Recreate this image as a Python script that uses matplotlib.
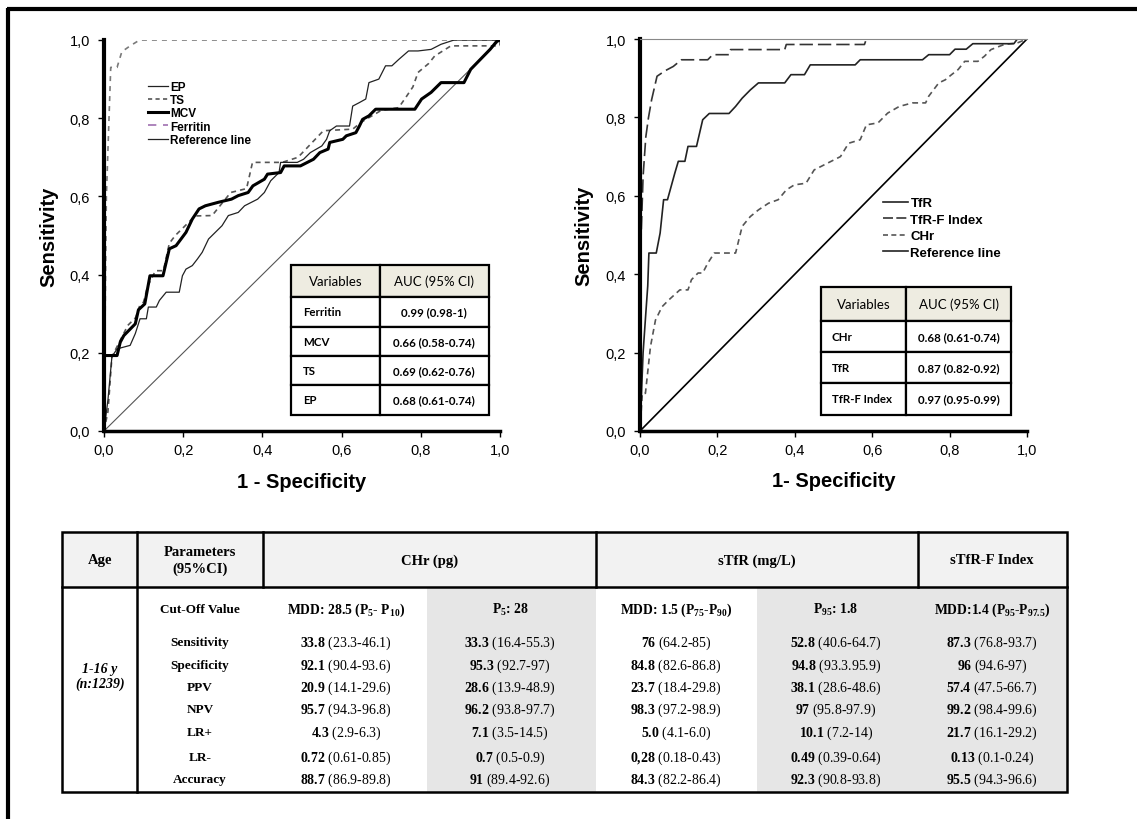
import numpy as np
import matplotlib.pyplot as plt
from matplotlib.lines import Line2D
from matplotlib.patches import Rectangle
from matplotlib.ticker import FuncFormatter

plt.rcParams['font.family'] = ['Liberation Sans', 'DejaVu Sans']
plt.rcParams['mathtext.fontset'] = 'custom'
plt.rcParams['mathtext.rm'] = 'Liberation Serif'
plt.rcParams['mathtext.bf'] = 'Liberation Serif:bold'

# ROC curves: (1 - specificity, sensitivity)
ferritin_pts = [(0, 0), (0.003, 0.3), (0.006, 0.6), (0.017, 0.93), (0.033, 0.93),
                (0.045, 0.97), (0.066, 0.985), (0.09, 1.0), (1.0, 1.0)]
mcv_pts = [(0, 0), (0, 0.193), (0.033, 0.193), (0.041, 0.227), (0.05, 0.244), (0.079, 0.274),
           (0.087, 0.31), (0.103, 0.325), (0.116, 0.397), (0.149, 0.397), (0.165, 0.466),
           (0.182, 0.474), (0.207, 0.508), (0.223, 0.542), (0.24, 0.568), (0.256, 0.576),
           (0.289, 0.585), (0.322, 0.593), (0.339, 0.602), (0.364, 0.61), (0.376, 0.627),
           (0.405, 0.644), (0.413, 0.657), (0.446, 0.661), (0.455, 0.678), (0.496, 0.678),
           (0.529, 0.695), (0.545, 0.712), (0.566, 0.721), (0.57, 0.738), (0.603, 0.746),
           (0.612, 0.755), (0.636, 0.763), (0.645, 0.78), (0.653, 0.797), (0.669, 0.806),
           (0.686, 0.823), (0.785, 0.823), (0.802, 0.849), (0.826, 0.866), (0.851, 0.891),
           (0.909, 0.891), (0.926, 0.925), (0.95, 0.95), (0.975, 0.976), (0.992, 0.997), (1.0, 1.0)]
ep_pts = [(0, 0), (0.01, 0.08), (0.02, 0.19), (0.033, 0.21), (0.066, 0.219), (0.079, 0.249),
          (0.091, 0.287), (0.107, 0.287), (0.112, 0.317), (0.132, 0.317), (0.14, 0.334),
          (0.157, 0.355), (0.19, 0.355), (0.198, 0.397), (0.207, 0.414), (0.223, 0.423),
          (0.236, 0.44), (0.248, 0.457), (0.256, 0.474), (0.264, 0.491), (0.281, 0.508),
          (0.298, 0.525), (0.314, 0.551), (0.339, 0.559), (0.355, 0.576), (0.388, 0.593),
          (0.405, 0.61), (0.421, 0.64), (0.442, 0.661), (0.446, 0.687), (0.488, 0.687),
          (0.504, 0.695), (0.521, 0.712), (0.55, 0.729), (0.562, 0.746), (0.57, 0.768),
          (0.587, 0.78), (0.62, 0.78), (0.628, 0.831), (0.645, 0.84), (0.661, 0.849),
          (0.669, 0.891), (0.694, 0.9), (0.711, 0.934), (0.727, 0.934), (0.744, 0.95),
          (0.769, 0.972), (0.793, 0.972), (0.826, 0.976), (0.851, 0.989), (0.884, 1.0), (1.0, 1.0)]
ts_pts = [(0, 0), (0.01, 0.05), (0.02, 0.19), (0.04, 0.23), (0.06, 0.27), (0.08, 0.29),
          (0.09, 0.32), (0.1, 0.33), (0.11, 0.37), (0.13, 0.41), (0.15, 0.41), (0.165, 0.48),
          (0.18, 0.5), (0.21, 0.53), (0.23, 0.55), (0.273, 0.551), (0.32, 0.61), (0.36, 0.62),
          (0.375, 0.687), (0.45, 0.687), (0.49, 0.70), (0.554, 0.768), (0.628, 0.772),
          (0.65, 0.79), (0.7, 0.82), (0.744, 0.827), (0.76, 0.85), (0.78, 0.88), (0.793, 0.917),
          (0.82, 0.94), (0.835, 0.959), (0.876, 0.985), (1.0, 0.985), (1.0, 1.0)]

tfrf_pts = [(0, 0), (0.003, 0.5), (0.008, 0.65), (0.015, 0.75), (0.022, 0.8), (0.03, 0.845),
            (0.044, 0.905), (0.065, 0.919), (0.086, 0.93), (0.107, 0.947), (0.175, 0.947),
            (0.188, 0.96), (0.23, 0.96), (0.234, 0.973), (0.374, 0.973), (0.378, 0.986),
            (0.58, 0.986), (0.585, 1.0), (1.0, 1.0)]
tfr_pts = [(0, 0), (0.008, 0.2), (0.015, 0.3), (0.02, 0.37), (0.023, 0.454), (0.042, 0.454),
           (0.052, 0.505), (0.061, 0.59), (0.071, 0.59), (0.078, 0.615), (0.09, 0.658),
           (0.099, 0.688), (0.116, 0.688), (0.124, 0.726), (0.146, 0.726), (0.154, 0.76),
           (0.162, 0.794), (0.179, 0.81), (0.23, 0.81), (0.247, 0.828), (0.264, 0.849),
           (0.285, 0.87), (0.306, 0.888), (0.374, 0.888), (0.39, 0.909), (0.425, 0.909),
           (0.44, 0.934), (0.556, 0.934), (0.569, 0.947), (0.73, 0.947), (0.746, 0.96),
           (0.8, 0.96), (0.814, 0.974), (0.843, 0.974), (0.86, 0.988), (0.966, 0.988),
           (0.975, 1.0), (1.0, 1.0)]
chr_pts = [(0, 0), (0.006, 0.096), (0.014, 0.096), (0.027, 0.215), (0.04, 0.283), (0.057, 0.317),
           (0.074, 0.334), (0.103, 0.36), (0.124, 0.36), (0.133, 0.386), (0.15, 0.403),
           (0.162, 0.403), (0.175, 0.428), (0.192, 0.454), (0.247, 0.454), (0.264, 0.522),
           (0.285, 0.547), (0.306, 0.564), (0.332, 0.581), (0.357, 0.59), (0.378, 0.615),
           (0.399, 0.628), (0.429, 0.632), (0.45, 0.666), (0.484, 0.683), (0.518, 0.7),
           (0.539, 0.734), (0.569, 0.743), (0.585, 0.781), (0.615, 0.786), (0.64, 0.811),
           (0.67, 0.828), (0.704, 0.837), (0.738, 0.837), (0.746, 0.854), (0.772, 0.888),
           (0.789, 0.896), (0.805, 0.909), (0.822, 0.922), (0.839, 0.943), (0.873, 0.943),
           (0.89, 0.956), (0.907, 0.973), (0.941, 0.986), (0.975, 0.99), (1.0, 1.0)]

# AUC inset tables
left_vars = ['Ferritin', 'MCV', 'TS', 'EP']
left_auc = ['0.99 (0.98-1)', '0.66 (0.58-0.74)', '0.69 (0.62-0.76)', '0.68 (0.61-0.74)']
right_vars = ['CHr', 'TfR', 'TfR-F Index']
right_auc = ['0.68 (0.61-0.74)', '0.87 (0.82-0.92)', '0.97 (0.95-0.99)']

# bottom table
params = ['Sensitivity', 'Specificity', 'PPV', 'NPV', 'LR+', 'LR-', 'Accuracy']
cutoffs = [r'MDD: 28.5 (P$_\mathbf{5}$- P$_\mathbf{10}$)', r'P$_\mathbf{5}$: 28',
           r'MDD: 1.5 (P$_\mathbf{75}$-P$_\mathbf{90}$)', r'P$_\mathbf{95}$: 1.8',
           r'MDD:1.4 (P$_\mathbf{95}$-P$_\mathbf{97.5}$)']
chr_mdd_val = ['33.8', '92.1', '20.9', '95.7', '4.3', '0.72', '88.7']
chr_mdd_ci = ['23.3-46.1', '90.4-93.6', '14.1-29.6', '94.3-96.8', '2.9-6.3', '0.61-0.85', '86.9-89.8']
chr_p5_val = ['33.3', '95.3', '28.6', '96.2', '7.1', '0.7', '91']
chr_p5_ci = ['16.4-55.3', '92.7-97', '13.9-48.9', '93.8-97.7', '3.5-14.5', '0.5-0.9', '89.4-92.6']
tfr_mdd_val = ['76', '84.8', '23.7', '98.3', '5.0', '0,28', '84.3']
tfr_mdd_ci = ['64.2-85', '82.6-86.8', '18.4-29.8', '97.2-98.9', '4.1-6.0', '0.18-0.43', '82.2-86.4']
tfr_p95_val = ['52.8', '94.8', '38.1', '97', '10.1', '0.49', '92.3']
tfr_p95_ci = ['40.6-64.7', '93.3.95.9', '28.6-48.6', '95.8-97.9', '7.2-14', '0.39-0.64', '90.8-93.8']
idx_val = ['87.3', '96', '57.4', '99.2', '21.7', '0.13', '95.5']
idx_ci = ['76.8-93.7', '94.6-97', '47.5-66.7', '98.4-99.6', '16.1-29.2', '0.1-0.24', '94.3-96.6']

W, H = 1137, 820
fig = plt.figure(figsize=(W / 100, H / 100), dpi=100)
fig.patch.set_facecolor('white')

def style_roc(ax, top_spine):
    ax.set_xlim(0, 1)
    ax.set_ylim(0, 1)
    ticks = np.arange(0, 1.01, 0.2)
    ax.set_xticks(ticks)
    ax.set_yticks(ticks)
    fmt = FuncFormatter(lambda v, p: f'{v:.1f}'.replace('.', ','))
    ax.xaxis.set_major_formatter(fmt)
    ax.yaxis.set_major_formatter(fmt)
    ax.tick_params(direction='out', length=4, width=1, labelsize=10.5)
    ax.tick_params(axis='x', pad=5)
    ax.tick_params(axis='y', pad=6)
    ax.spines['left'].set_linewidth(3)
    ax.spines['bottom'].set_linewidth(2.5)
    ax.spines['right'].set_visible(False)
    if top_spine:
        ax.spines['top'].set_linewidth(0.8)
        ax.spines['top'].set_color('#888888')
    else:
        ax.spines['top'].set_visible(False)

def inset_table(ax, names, aucs, bbox, col_frac, head_frac):
    rows = [['Variables', 'AUC (95% CI)']] + [[n, a] for n, a in zip(names, aucs)]
    tb = ax.table(cellText=rows, bbox=bbox, colWidths=[col_frac, 1 - col_frac], cellLoc='center')
    tb.auto_set_font_size(False)
    for (r, c), cell in tb.get_celld().items():
        cell.set_linewidth(1.6)
        cell.set_height(head_frac if r == 0 else (1 - head_frac) / (len(rows) - 1))
        txt = cell.get_text()
        txt.set_fontfamily(['Lato', 'DejaVu Sans'])
        if r == 0:
            cell.set_facecolor('#eeece1')
            txt.set_fontsize(9.5)
        else:
            txt.set_fontsize(8.3)
            txt.set_fontweight('bold')
            if c == 0:
                txt.set_horizontalalignment('left')
                cell.PAD = 0.13
    return tb

def xy(pts):
    a = np.array(pts)
    return a[:, 0], a[:, 1]

# ---- left ROC
ax1 = fig.add_axes([104 / W, 1 - 432 / H, 396 / W, 391 / H])
ax1.plot([0, 1], [0, 1], color='#555555', lw=0.8)
ax1.plot(*xy(ferritin_pts), color='#7a7a7a', lw=1.2, dashes=(3, 3))
ax1.plot(*xy(ts_pts), color='#555555', lw=1.2, dashes=(3, 2.5))
ax1.plot(*xy(ep_pts), color='#222222', lw=0.9)
ax1.plot(*xy(mcv_pts), color='black', lw=2.2)
style_roc(ax1, top_spine=False)
ax1.set_ylabel('Sensitivity', fontsize=14.5, fontweight='bold')
ax1.yaxis.set_label_coords(-0.115, 0.5)
ax1.set_xlabel('1 - Specificity', fontsize=14.5, fontweight='bold')
ax1.xaxis.set_label_coords(0.5, -0.104)
h1 = [Line2D([], [], color='#222222', lw=0.9),
      Line2D([], [], color='#555555', lw=1.2, dashes=(2.5, 2)),
      Line2D([], [], color='black', lw=2.2),
      Line2D([], [], color='#a070b0', lw=1.2, dashes=(5, 4)),
      Line2D([], [], color='#222222', lw=0.9)]
ax1.legend(h1, ['EP', 'TS', 'MCV', 'Ferritin', 'Reference line'], loc='upper left',
           bbox_to_anchor=(0.111, 0.895), frameon=False, borderpad=0, borderaxespad=0,
           handlelength=1.7, handletextpad=0.17, labelspacing=0.1,
           prop={'size': 8.5, 'weight': 'bold'})
inset_table(ax1, left_vars, left_auc, [0.473, 0.042, 0.498, 0.383], 0.449, 0.217)

# ---- right ROC
ax2 = fig.add_axes([640 / W, 1 - 432 / H, 387 / W, 392 / H])
ax2.plot([0, 1], [0, 1], color='black', lw=1.2)
ax2.plot(*xy(chr_pts), color='#555555', lw=1.2, dashes=(3.5, 2.5))
ax2.plot(*xy(tfr_pts), color='#222222', lw=1.2)
ax2.plot(*xy(tfrf_pts), color='#333333', lw=1.2, dashes=(8, 3))
style_roc(ax2, top_spine=True)
ax2.set_ylabel('Sensitivity', fontsize=14.5, fontweight='bold')
ax2.yaxis.set_label_coords(-0.12, 0.5)
ax2.set_xlabel('1- Specificity', fontsize=14.5, fontweight='bold')
ax2.xaxis.set_label_coords(0.5, -0.102)
h2 = [Line2D([], [], color='#222222', lw=1.2),
      Line2D([], [], color='#333333', lw=1.2, dashes=(6, 2)),
      Line2D([], [], color='#555555', lw=1.2, dashes=(3, 2)),
      Line2D([], [], color='#222222', lw=1.2)]
ax2.legend(h2, ['TfR', 'TfR-F Index', 'CHr', 'Reference line'], loc='upper left',
           bbox_to_anchor=(0.628, 0.597), frameon=False, borderpad=0, borderaxespad=0,
           handlelength=1.9, handletextpad=0.18, labelspacing=0.32,
           prop={'size': 9.5, 'weight': 'bold'})
inset_table(ax2, right_vars, right_auc, [0.467, 0.042, 0.492, 0.325], 0.45, 0.265)

# ---- bottom table, drawn in a pixel-coordinate overlay
tab = fig.add_axes([0, 0, 1, 1], zorder=-1)
tab.set_xlim(0, W)
tab.set_ylim(H, 0)
tab.axis('off')

col_edges = [62, 137, 263, 596, 918, 1067]
top, head_bot, bot = 533, 588, 793
shade_spans = [(427, 596), (757, 918), (918, 1067)]

tab.add_patch(Rectangle((col_edges[0], top), col_edges[-1] - col_edges[0], head_bot - top,
                        facecolor='#f2f2f2', edgecolor='none'))
for x0, x1 in shade_spans:
    tab.add_patch(Rectangle((x0, head_bot), x1 - x0, bot - head_bot,
                            facecolor='#e6e6e6', edgecolor='none'))
tab.add_patch(Rectangle((col_edges[0], top), col_edges[-1] - col_edges[0], bot - top,
                        facecolor='none', edgecolor='black', lw=1.8))
tab.plot([col_edges[0], col_edges[-1]], [head_bot, head_bot], color='black', lw=1.8)
tab.plot([col_edges[1], col_edges[1]], [top, bot], color='black', lw=1.8)
for x in col_edges[2:-1]:
    tab.plot([x, x], [top, head_bot], color='black', lw=1.8)

serif = ['Liberation Serif', 'DejaVu Serif']
hy = 561
hfs = 10.5
tab.text(100, hy, 'Age', ha='center', va='center', family=serif, weight='bold', fontsize=hfs)
tab.text(200, hy, 'Parameters\n(95%CI)', ha='center', va='center', family=serif,
         weight='bold', fontsize=hfs, linespacing=1.3)
tab.text(430, hy, 'CHr (pg)', ha='center', va='center', family=serif, weight='bold', fontsize=hfs)
tab.text(757, hy, 'sTfR (mg/L)', ha='center', va='center', family=serif, weight='bold', fontsize=hfs)
tab.text(992, hy, 'sTfR-F Index', ha='center', va='center', family=serif, weight='bold', fontsize=hfs)

tab.text(100, 677, '1-16 y\n(n:1239)', ha='center', va='center', family=serif,
         weight='bold', style='italic', fontsize=10, linespacing=1.15)

col_x = [346, 510, 676, 836, 992]
tab.text(200, 610, 'Cut-Off Value', ha='center', va='center', family=serif,
         weight='bold', fontsize=9.5)
for x, s in zip(col_x, cutoffs):
    tab.text(x, 610, s, ha='center', va='center', family=serif, weight='bold', fontsize=9.8)

row_y = [643, 666, 688, 710, 733, 758, 780]
cols = [(chr_mdd_val, chr_mdd_ci), (chr_p5_val, chr_p5_ci), (tfr_mdd_val, tfr_mdd_ci),
        (tfr_p95_val, tfr_p95_ci), (idx_val, idx_ci)]
for i, (p, y) in enumerate(zip(params, row_y)):
    tab.text(200, y, p, ha='center', va='center', family=serif, weight='bold', fontsize=9.5)
    for x, (vals, cis) in zip(col_x, cols):
        v = vals[i].replace(',', '{,}')
        tab.text(x, y, rf'$\mathbf{{{v}}}$ ({cis[i]})', ha='center', va='center',
                 family=serif, fontsize=10)

# thick frame of the original figure (top and left edges)
tab.plot([7, W], [10, 10], color='black', lw=3, solid_capstyle='butt')
tab.plot([8, 8], [9, H], color='black', lw=3, solid_capstyle='butt')

fig.savefig('out.png', dpi=100)
